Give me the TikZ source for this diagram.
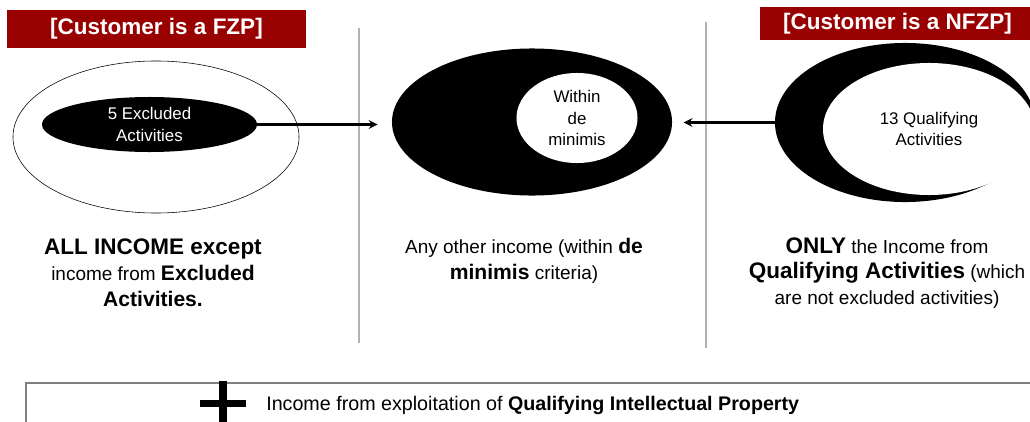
\documentclass[tikz,border=0pt]{standalone}
\usepackage{fontspec}
\setmainfont{Liberation Sans}
\usetikzlibrary{arrows,shapes}
\definecolor{hdrred}{RGB}{153,0,0}
\newcommand{\leadtxt}[1]{{\fontsize{16}{18.4}\selectfont\bfseries #1}}
\newcommand{\hl}[1]{{\fontsize{15}{18.4}\selectfont\bfseries #1}}
\tikzstyle{header}=[fill=hdrred,text=white,inner sep=0pt,font=\fontsize{16}{19}\selectfont\bfseries]
\tikzstyle{ring}=[ellipse,draw,thin,inner sep=0pt]
\tikzstyle{blob}=[ellipse,fill=black,text=white,inner sep=0pt,align=center,font=\fontsize{12}{15}\selectfont]
\tikzstyle{hole}=[ellipse,fill=white,inner sep=0pt,align=center,font=\fontsize{12}{15}\selectfont]
\tikzstyle{edge}=[draw,line width=1.8pt,-stealth]
\tikzstyle{divider}=[draw,gray!60,line width=1pt]
\tikzstyle{caption}=[align=center,inner sep=0pt,font=\fontsize{13.5}{18.4}\selectfont]

\begin{document}
\begin{tikzpicture}[x=0.025cm,y=-0.025cm]
    \useasboundingbox (0,0) rectangle (1030,421);
    % First the two customer headers
    \node[header,minimum width=7.45cm,minimum height=0.95cm] (fzp) at (156.5,29) {[Customer is a FZP]};
    \node[header,minimum width=6.875cm,minimum height=0.825cm] (nfzp) at (897.5,23.5) {[Customer is a NFZP]};

    % Column dividers
    \path[divider] (359,28) -- (359,343);
    \path[divider] (706,22) -- (706,348);

    % Left set: all income with excluded activities inside
    \node[ring,minimum width=7.15cm,minimum height=3.8cm] (fzpset) at (156,137) {};
    \node[blob,minimum width=5.375cm,minimum height=1.375cm] (excl) at (149.5,124.5) {5 Excluded\\Activities};

    % Middle set: other income with de minimis hole
    \node[blob,minimum width=7cm,minimum height=3.675cm] (dm) at (532,122) {};
    \node[hole,text=black,minimum width=3.025cm,minimum height=2.25cm] (wdm) at (577,118) {Within\\de\\minimis};

    % Right set: crescent round the qualifying activities
    \node[blob,minimum width=6.5cm,minimum height=3.975cm] (nfzpset) at (905,122.5) {};
    \node[hole,minimum width=5.3cm,minimum height=3.3cm] (qa) at (929,129) {13 Qualifying\\Activities};

    % Connect the sets with arrows
    \path[edge,shorten >=0.35cm] (excl.east) -- (excl.east -| dm.west);
    \path[edge,shorten >=0.28cm] (nfzpset.west) -- (nfzpset.west -| dm.east);

    % Captions under each column
    \node[caption] (fzptxt) at (153,273) {\leadtxt{ALL INCOME except}\\income from \hl{Excluded}\\\hl{Activities.}};
    \node[caption] (dmtxt) at (524,261) {Any other income (within \hl{de}\\\hl{minimis} criteria)};
    \node[caption] (nfzptxt) at (887,273) {\leadtxt{ONLY} the Income from\\\leadtxt{Qualifying Activities} (which\\are not excluded activities)};

    % Bottom box with the plus sign
    \draw[gray,line width=1.2pt] (26,383) rectangle (1045,440);
    \draw[line width=0.2cm] (223,381) -- (223,430);
    \draw[line width=0.175cm] (200,403) -- (246,403);
    \node[anchor=west,inner sep=0pt,font=\fontsize{14}{17}\selectfont] (iptxt) at (266,405) {Income from exploitation of \textbf{Qualifying Intellectual Property}};
\end{tikzpicture}
\end{document}
